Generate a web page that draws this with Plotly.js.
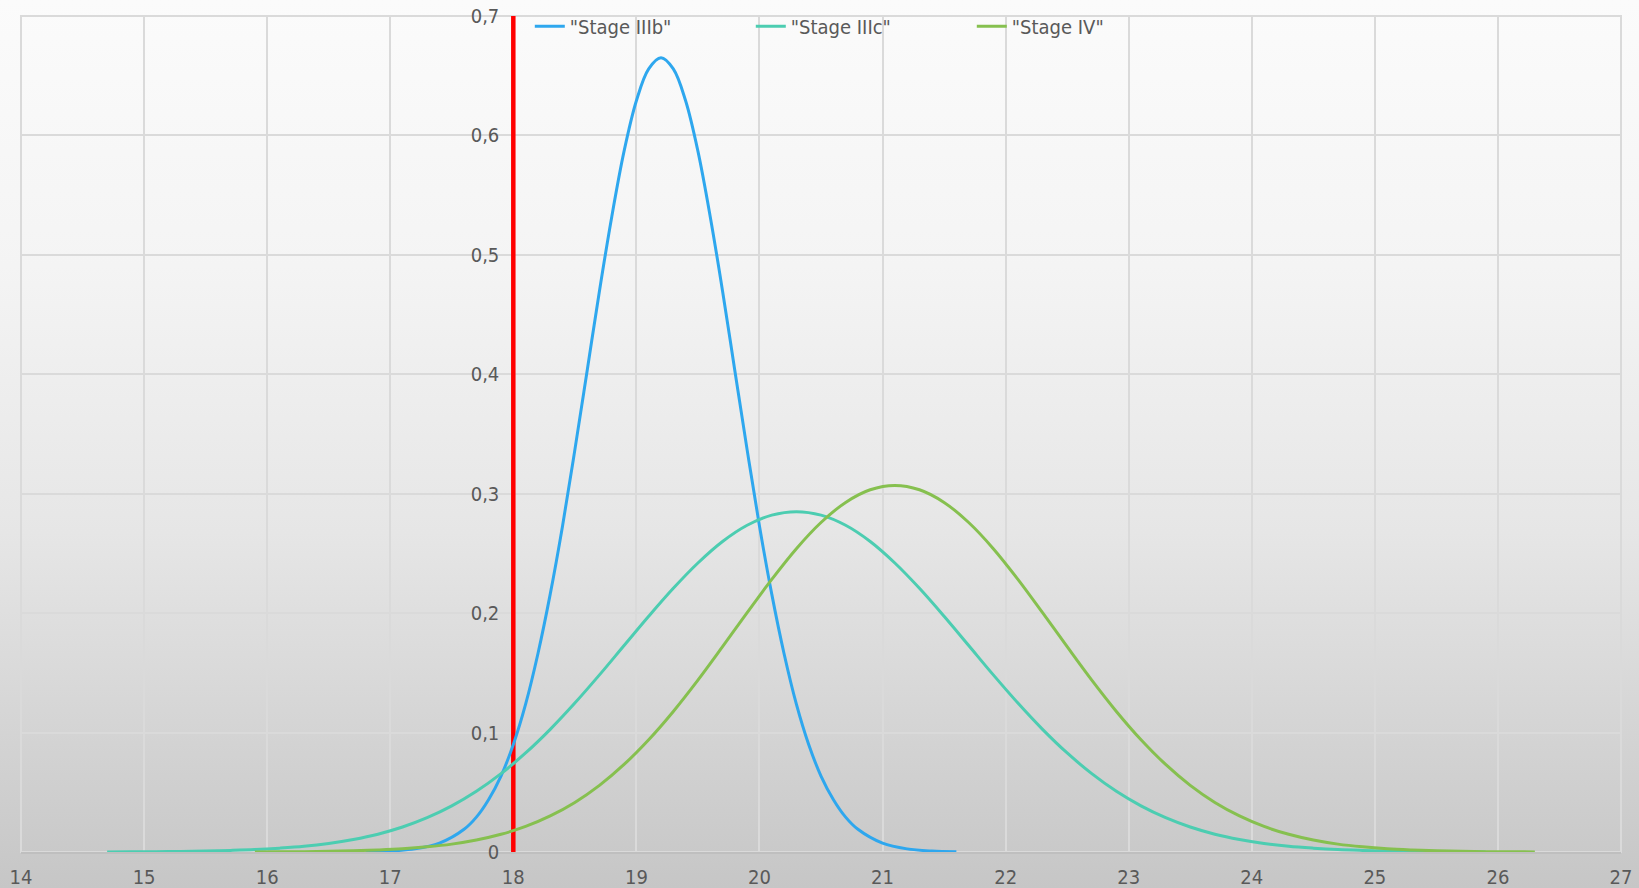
<!DOCTYPE html>
<html>
<head>
<meta charset="utf-8">
<script src="https://cdn.plot.ly/plotly-3.0.1.min.js"></script>
<style>
  html, body { margin: 0; padding: 0; width: 1639px; height: 888px; overflow: hidden; }
  body { background: linear-gradient(to bottom, #fbfbfb 0%, #f4f4f4 30%, #e6e6e6 60%, #d6d6d6 80%, #c6c6c6 100%); }
  #chart { width: 1639px; height: 888px; }
</style>
</head>
<body>
<div id="chart"></div>
<script>
// Series names
const seriesNames = ['"Stage IIIb"', '"Stage IIIc"', '"Stage IV"'];

// Stage IIIb
const stageIIIbX = [16.8, 17.0, 17.2, 17.4, 17.6, 17.7, 17.8, 17.9, 18.0, 18.1, 18.2, 18.3, 18.4, 18.5, 18.6, 18.7, 18.8, 18.9, 19.0, 19.1, 19.2,
                    19.3, 19.4, 19.5, 19.6, 19.7, 19.8, 19.9, 20.0, 20.1, 20.2, 20.3, 20.4, 20.5, 20.6, 20.7, 20.8, 21.0, 21.2, 21.4, 21.6];
const stageIIIbY = [0.0002, 0.0008, 0.0026, 0.0074, 0.019, 0.0292, 0.044, 0.0636, 0.090, 0.1238, 0.166, 0.2159, 0.273, 0.3367, 0.403, 0.4698, 0.532, 0.5868, 0.629, 0.6557, 0.665,
                    0.6557, 0.629, 0.5868, 0.532, 0.4698, 0.403, 0.3367, 0.273, 0.2159, 0.166, 0.1238, 0.090, 0.0636, 0.044, 0.0292, 0.019, 0.0074, 0.0026, 0.0008, 0.0002];

// Stage IIIc
const stageIIIcX = [14.7, 14.9, 15.1, 15.3, 15.5, 15.7, 15.9, 16.1, 16.3, 16.5, 16.7, 16.9, 17.1, 17.3, 17.5, 17.7, 17.9, 18.1, 18.3, 18.5,
                    18.7, 18.9, 19.1, 19.3, 19.5, 19.7, 19.9, 20.1, 20.3, 20.5, 20.7, 20.9, 21.1, 21.3, 21.5, 21.7, 21.9, 22.1, 22.3,
                    22.5, 22.7, 22.9, 23.1, 23.3, 23.5, 23.7, 23.9, 24.1, 24.3, 24.5, 24.7, 24.9, 25.1, 25.3, 25.5, 25.7, 25.9];
const stageIIIcY = [0.0001, 0.0002, 0.0003, 0.0005, 0.0008, 0.0013, 0.0020, 0.0032, 0.0048, 0.0072, 0.0105, 0.0149, 0.0209, 0.0287, 0.0386, 0.0508, 0.0656, 0.0829, 0.1027, 0.1247,
                    0.1483, 0.1729, 0.1974, 0.2208, 0.2420, 0.2600, 0.2736, 0.2821, 0.2850, 0.2821, 0.2736, 0.2600, 0.2420, 0.2208, 0.1974, 0.1729, 0.1483, 0.1247, 0.1027,
                    0.0829, 0.0656, 0.0508, 0.0386, 0.0287, 0.0209, 0.0149, 0.0105, 0.0072, 0.0048, 0.0032, 0.0020, 0.0013, 0.0008, 0.0005, 0.0003, 0.0002, 0.0001];

// Stage IV
const stageIVX = [15.9, 16.1, 16.3, 16.5, 16.7, 16.9, 17.1, 17.3, 17.5, 17.7, 17.9, 18.1, 18.3, 18.5, 18.7, 18.9, 19.1, 19.3, 19.5, 19.7,
                  19.9, 20.1, 20.3, 20.5, 20.7, 20.9, 21.1, 21.3, 21.5, 21.7, 21.9, 22.1, 22.3, 22.5, 22.7, 22.9, 23.1, 23.3, 23.5,
                  23.7, 23.9, 24.1, 24.3, 24.5, 24.7, 24.9, 25.1, 25.3, 25.5, 25.7, 25.9, 26.1, 26.3];
const stageIVY = [0.0001, 0.0002, 0.0003, 0.0006, 0.0010, 0.0017, 0.0027, 0.0043, 0.0066, 0.0100, 0.0148, 0.0214, 0.0302, 0.0415, 0.0558, 0.0733, 0.0940, 0.1177, 0.1439, 0.1719,
                  0.2004, 0.2283, 0.2540, 0.2759, 0.2927, 0.3033, 0.3069, 0.3033, 0.2927, 0.2759, 0.2540, 0.2283, 0.2004, 0.1719, 0.1439, 0.1177, 0.0940, 0.0733, 0.0558,
                  0.0415, 0.0302, 0.0214, 0.0148, 0.0100, 0.0066, 0.0043, 0.0027, 0.0017, 0.0010, 0.0006, 0.0003, 0.0002, 0.0001];

// Threshold marker
const thresholdX = [18, 18];
const thresholdY = [0, 0.7];

// Axes
const xTickVals = [14, 15, 16, 17, 18, 19, 20, 21, 22, 23, 24, 25, 26, 27];
const yTickVals = [0, 0.1, 0.2, 0.3, 0.4, 0.5, 0.6, 0.7];

const FONT = '"Liberation Sans Narrow", "DejaVu Sans Condensed", "Arial Narrow", sans-serif';
const TXT = '#595959';
const GRID = '#dadada';

const traces = [
  { x: thresholdX, y: thresholdY, mode: 'lines', line: { color: '#ff0000', width: 4.5 },
    showlegend: false, hoverinfo: 'skip' },
  { x: stageIIIbX, y: stageIIIbY, name: seriesNames[0], mode: 'lines',
    line: { color: '#2ea7ee', width: 3, shape: 'spline', smoothing: 1, simplify: false } },
  { x: stageIIIcX, y: stageIIIcY, name: seriesNames[1], mode: 'lines',
    line: { color: '#4ccdb1', width: 3, shape: 'spline', smoothing: 1, simplify: false } },
  { x: stageIVX, y: stageIVY, name: seriesNames[2], mode: 'lines',
    line: { color: '#86c04f', width: 3, shape: 'spline', smoothing: 1, simplify: false } }
];

const layout = {
  width: 1639, height: 888,
  margin: { l: 21, r: 18, t: 16, b: 36, pad: 0, autoexpand: false },
  paper_bgcolor: 'rgba(0,0,0,0)',
  plot_bgcolor: 'rgba(0,0,0,0)',
  separators: ', ',
  font: { family: FONT, size: 20, color: TXT },
  showlegend: true,
  legend: {
    orientation: 'h', x: 0.318, xanchor: 'left', y: 1.011, yanchor: 'top',
    bgcolor: 'rgba(0,0,0,0)', font: { family: FONT, size: 20, color: TXT },
    entrywidth: 176, entrywidthmode: 'pixels', traceorder: 'normal'
  },
  shapes: [
    { type: 'rect', xref: 'paper', yref: 'paper', x0: 0, x1: 1, y0: 0, y1: 1,
      line: { color: GRID, width: 2 }, layer: 'below' }
  ],
  xaxis: {
    range: [14, 27], tickvals: xTickVals, ticks: '', showgrid: true,
    gridcolor: GRID, gridwidth: 2, zeroline: false,
    showline: true, linecolor: '#bfbfbf', linewidth: 2,
    tickfont: { family: FONT, size: 20, color: TXT }, ticklabelstandoff: 6,
    fixedrange: true, automargin: false
  },
  yaxis: {
    range: [0, 0.7], tickvals: yTickVals, ticks: '', showgrid: true,
    gridcolor: GRID, gridwidth: 2, zeroline: false, showline: false,
    anchor: 'free', position: 4 / 13, side: 'left',
    tickfont: { family: FONT, size: 20, color: TXT }, ticklabelstandoff: 14,
    fixedrange: true, automargin: false
  }
};

Plotly.newPlot('chart', traces, layout, { displayModeBar: false, staticPlot: true });
</script>
</body>
</html>
